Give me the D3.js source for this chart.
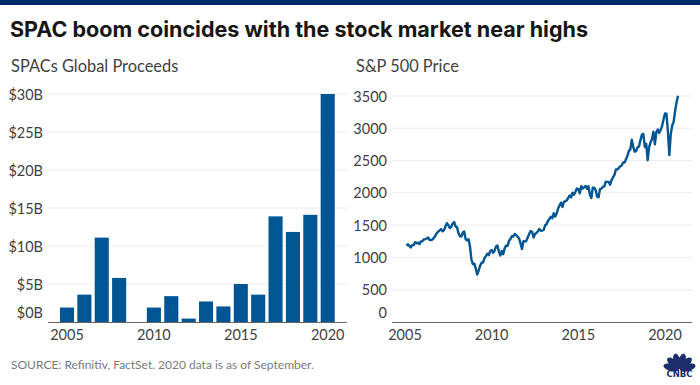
<!DOCTYPE html>
<html>
<head>
<meta charset="utf-8">
<script src="https://cdn.jsdelivr.net/npm/d3@7"></script>
<style>
    html, body { margin: 0; padding: 0; background: #fff; }
    svg { display: block; }
    text { font-family: "Lato", sans-serif; }
</style>
</head>
<body>
<div id="chart"></div>
<script>
/** DATA */
const years = [2005, 2006, 2007, 2008, 2009, 2010, 2011, 2012, 2013, 2014, 2015, 2016, 2017, 2018, 2019, 2020];
const proceeds = [1.9, 3.6, 11.1, 5.8, 0, 1.9, 3.4, 0.45, 2.7, 2.05, 5, 3.6, 13.9, 11.85, 14.1, 30];
const proceedsTicks = [0, 5, 10, 15, 20, 25, 30];
const priceTicks = [0, 500, 1000, 1500, 2000, 2500, 3000, 3500];
const yearTicks = [2005, 2010, 2015, 2020];

// monthly S&P 500 level, Jan 2005 to Sep 2020
const sp500 = [
    1181, 1203, 1180, 1156, 1191, 1191, 1234, 1220, 1228, 1207, 1249, 1248,
    1280, 1280, 1294, 1310, 1270, 1270, 1276, 1303, 1335, 1377, 1400, 1418,
    1438, 1406, 1420, 1482, 1530, 1503, 1455, 1473, 1526, 1549, 1481, 1468,
    1378, 1330, 1322, 1385, 1400, 1280, 1267, 1282, 1166, 968, 896, 903,
    825, 735, 797, 872, 919, 919, 987, 1020, 1057, 1036, 1095, 1115,
    1073, 1104, 1169, 1186, 1089, 1030, 1101, 1049, 1141, 1183, 1180, 1257,
    1286, 1327, 1325, 1363, 1345, 1320, 1292, 1218, 1131, 1253, 1246, 1257,
    1312, 1365, 1408, 1397, 1310, 1362, 1379, 1406, 1440, 1412, 1416, 1426,
    1498, 1514, 1569, 1597, 1630, 1606, 1685, 1632, 1681, 1756, 1805, 1848,
    1782, 1859, 1872, 1883, 1923, 1960, 1930, 2003, 1972, 2018, 2067, 2058,
    1994, 2104, 2067, 2085, 2107, 2063, 2103, 1972, 1920, 2079, 2080, 2043,
    1940, 1932, 2059, 2065, 2096, 2098, 2173, 2170, 2168, 2126, 2198, 2238,
    2278, 2363, 2362, 2384, 2411, 2423, 2470, 2471, 2519, 2575, 2647, 2673,
    2823, 2713, 2640, 2648, 2705, 2718, 2816, 2901, 2913, 2711, 2760, 2506,
    2704, 2784, 2834, 2945, 2752, 2941, 2980, 2926, 2976, 3037, 3140, 3230,
    3225, 2954, 2584, 2912, 3044, 3100, 3271, 3400, 3505
];

const blue = "#005594";
const textColor = "#3f3f3f";
const gridColor = "#ececec";
const axisColor = "#666";

const svg = d3.select("#chart").append("svg")
    .attr("width", 700)
    .attr("height", 385);

// TOP BAND
svg.append("rect").attr("width", 700).attr("height", 5).attr("fill", "#002b6b");

// HEADINGS
const addText = function(x, y, label, size, color, weight) {
    return svg.append("text")
        .attr("x", x)
        .attr("y", y)
        .attr("fill", color)
        .attr("font-size", size)
        .attr("font-weight", weight || 400)
        .text(label);
};
addText(10, 37, "SPAC boom coincides with the stock market near highs", 21.55, "#161616", 700)
    .style("font-family", "Inter");
addText(11, 72, "SPACs Global Proceeds", 16.4, textColor);
addText(356, 72, "S&P 500 Price", 16.4, textColor);
addText(11, 369, "SOURCE: Refinitiv, FactSet. 2020 data is as of September.", 12, "#7a7a7a");

// FUNCTION: GRID AND TICK LABELS SHARED BY BOTH PANELS
const drawFrame = function(y, ticks, x0, x1, format) {
    const g = svg.append("g");
    const axis = d3.axisLeft(y)
        .tickValues(ticks)
        .tickSize(0)
        .tickPadding(5)
        .tickFormat(format);
    const gy = g.append("g").attr("transform", `translate(${x0},0)`).call(axis);
    gy.select(".domain").remove();
    gy.selectAll("text")
        .attr("fill", textColor)
        .attr("font-size", 14.5)
        .attr("dy", d => d === 0 ? "-0.3em" : "0.35em");
    g.selectAll("line.grid")
        .data(ticks.filter(d => d > 0))
        .join("line")
        .attr("class", "grid")
        .attr("x1", x0)
        .attr("x2", x1)
        .attr("y1", d => y(d))
        .attr("y2", d => y(d))
        .attr("stroke", gridColor);
    return g;
};

const drawBaseline = function(yPos, x0, x1) {
    svg.append("line")
        .attr("x1", x0).attr("x2", x1)
        .attr("y1", yPos).attr("y2", yPos)
        .attr("stroke", axisColor)
        .attr("stroke-width", 1);
};

const drawYearLabels = function(pos) {
    svg.append("g").selectAll("text")
        .data(yearTicks)
        .join("text")
        .attr("x", d => pos(d))
        .attr("y", 340)
        .attr("text-anchor", "middle")
        .attr("fill", textColor)
        .attr("font-size", 14.5)
        .text(d => d);
};

// LEFT PANEL: BARS
const yBar = d3.scaleLinear().domain([0, 30]).range([322, 94]);
const xBar = d3.scaleBand().domain(years).range([58.3, 336.4]).paddingInner(0.19).paddingOuter(0.095);
drawFrame(yBar, proceedsTicks, 48, 347, d => `$${d}B`);
svg.append("g").selectAll("rect")
    .data(years)
    .join("rect")
    .attr("x", d => xBar(d))
    .attr("width", xBar.bandwidth())
    .attr("y", (d, i) => yBar(proceeds[i]))
    .attr("height", (d, i) => yBar(0) - yBar(proceeds[i]))
    .attr("fill", blue);
drawBaseline(322.5, 48, 347);
drawYearLabels(d => xBar(d) + xBar.bandwidth() / 2);

// RIGHT PANEL: LINE
const yLine = d3.scaleLinear().domain([0, 3500]).range([322, 96]);
const xLine = d3.scaleLinear().domain([2005, 2020]).range([405, 665]);
drawFrame(yLine, priceTicks, 392, 692, d => d);
const line = d3.line()
    .x((d, i) => xLine(2005 + (i + 1) / 12))
    .y(d => yLine(d));
svg.append("path")
    .datum(sp500)
    .attr("d", line)
    .attr("fill", "none")
    .attr("stroke", blue)
    .attr("stroke-width", 2.4)
    .attr("stroke-linejoin", "round");
drawBaseline(322.5, 392, 692);
drawYearLabels(xLine);

// CNBC LOGO
const logo = svg.append("g").attr("transform", "translate(679.5,369.5)");
const petalAngles = [-76, -46, -16, 16, 46, 76];
logo.selectAll("ellipse")
    .data(petalAngles)
    .join("ellipse")
    .attr("cx", 0)
    .attr("cy", -8.5)
    .attr("rx", 3.6)
    .attr("ry", 8)
    .attr("fill", "#1c2f6b")
    .attr("transform", d => `rotate(${d})`);
logo.append("text")
    .attr("x", 0)
    .attr("y", 7.8)
    .attr("text-anchor", "middle")
    .attr("fill", "#1c2f6b")
    .attr("font-size", 8.5)
    .attr("font-weight", 700)
    .style("font-family", "DejaVu Sans")
    .text("CNBC");
</script>
</body>
</html>
